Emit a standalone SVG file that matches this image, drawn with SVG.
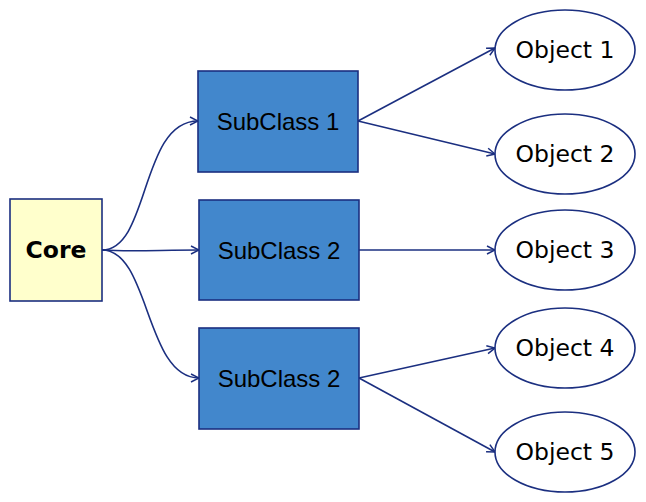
<svg xmlns="http://www.w3.org/2000/svg" width="646" height="502" viewBox="0 0 646 502">
<defs>
<style>
.e{fill:none;stroke:#1b2f80;stroke-width:1.6}
.sub{fill:#4287cc;stroke:#1b2f80;stroke-width:1.6}
.obj{fill:#ffffff;stroke:#1b2f80;stroke-width:1.6}
.core{fill:#ffffcc;stroke:#1b2f80;stroke-width:1.6}
text{font-family:"DejaVu Sans",sans-serif;font-size:23.5px;fill:#000;text-anchor:middle;dominant-baseline:central}
.st{font-family:"Liberation Sans",Arial,sans-serif;font-size:24px}
</style>
<marker id="a" markerWidth="10" markerHeight="10" refX="9" refY="5" orient="auto" markerUnits="userSpaceOnUse">
<path d="M1,1 L9,5 L1,9" fill="none" stroke="#1b2f80" stroke-width="1.5"/>
</marker>
</defs>
<g id="connectors">
<path class="e" marker-end="url(#a)" d="M102,250 C150,250 140,121 198,121"/>
<path class="e" marker-end="url(#a)" d="M102,250 C130,252 160,250 199,250"/>
<path class="e" marker-end="url(#a)" d="M102,250 C150,250 145,378 199,378"/>
<path class="e" marker-end="url(#a)" d="M358,121 L495,48"/>
<path class="e" marker-end="url(#a)" d="M358,121 L495,154"/>
<path class="e" marker-end="url(#a)" d="M359,250 L495,250"/>
<path class="e" marker-end="url(#a)" d="M359,378 L495,348"/>
<path class="e" marker-end="url(#a)" d="M359,378 L495,452"/>
</g>
<g id="core"><rect class="core" x="10" y="199" width="92" height="102"/><text x="56" y="250" font-weight="bold">Core</text></g>
<g id="subclass1"><rect class="sub" x="198" y="71" width="160" height="101"/><text class="st" x="278" y="121">SubClass 1</text></g>
<g id="subclass2a"><rect class="sub" x="199" y="200" width="160" height="100"/><text class="st" x="279" y="250">SubClass 2</text></g>
<g id="subclass2b"><rect class="sub" x="199" y="328" width="160" height="101"/><text class="st" x="279" y="378">SubClass 2</text></g>
<g id="object1"><ellipse class="obj" cx="565" cy="50" rx="70" ry="40"/><text x="565" y="50">Object 1</text></g>
<g id="object2"><ellipse class="obj" cx="565" cy="154" rx="70" ry="40"/><text x="565" y="154">Object 2</text></g>
<g id="object3"><ellipse class="obj" cx="565" cy="250" rx="70" ry="40"/><text x="565" y="250">Object 3</text></g>
<g id="object4"><ellipse class="obj" cx="565" cy="348" rx="70" ry="40"/><text x="565" y="348">Object 4</text></g>
<g id="object5"><ellipse class="obj" cx="565" cy="452" rx="70" ry="40"/><text x="565" y="452">Object 5</text></g>
</svg>
